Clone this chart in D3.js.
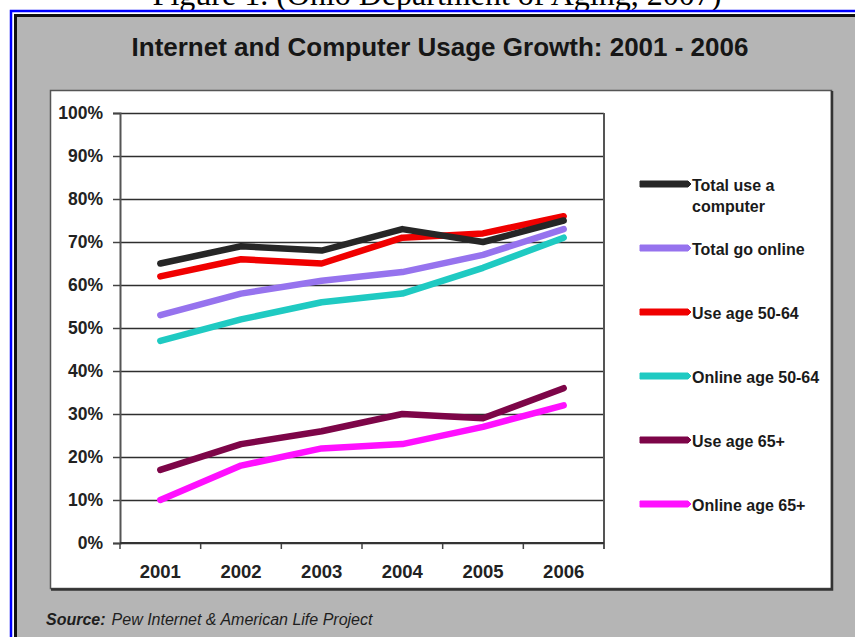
<!DOCTYPE html>
<html>
<head>
<meta charset="utf-8">
<script src="https://cdn.jsdelivr.net/npm/d3@7"></script>
<style>
  html, body { margin: 0; padding: 0; background: #fff; }
  svg { display: block; }
</style>
</head>
<body>
<svg id="chart"></svg>
<script>
// data
const years = ['2001', '2002', '2003', '2004', '2005', '2006'];
const yTicks = [0, 0.1, 0.2, 0.3, 0.4, 0.5, 0.6, 0.7, 0.8, 0.9, 1];

const seriesNames = ['Total use a computer', 'Total go online', 'Use age 50-64',
    'Online age 50-64', 'Use age 65+', 'Online age 65+'];
const seriesColors = ['#262626', '#9673ee', '#f00000', '#1fcac2', '#7d0548', '#ff10ff'];

const totalUse = [0.65, 0.69, 0.68, 0.73, 0.70, 0.75];
const totalOnline = [0.53, 0.58, 0.61, 0.63, 0.67, 0.73];
const use5064 = [0.62, 0.66, 0.65, 0.71, 0.72, 0.76];
const online5064 = [0.47, 0.52, 0.56, 0.58, 0.64, 0.71];
const use65 = [0.17, 0.23, 0.26, 0.30, 0.29, 0.36];
const online65 = [0.10, 0.18, 0.22, 0.23, 0.27, 0.32];

const seriesValues = [totalUse, totalOnline, use5064, online5064, use65, online65];
// draw order: lower series first so the black line sits on top like the original
const drawOrder = [5, 4, 3, 1, 2, 0];

const width = 855;
const height = 637;
const narrow = "'Liberation Sans Narrow', 'Arial Narrow', 'Liberation Sans', Arial, sans-serif";
const sans = "'Liberation Sans', Arial, sans-serif";

const svg = d3.select('#chart')
    .attr('width', width)
    .attr('height', height);

// page caption, cut off at the top of the scan
svg.append('text')
    .attr('x', 437)
    .attr('y', 5)
    .attr('text-anchor', 'middle')
    .style('font-family', "'Liberation Serif', 'Times New Roman', serif")
    .style('font-size', '32px')
    .style('fill', '#000')
    .text('Figure 1. (Ohio Department of Aging, 2007)');

// blue frame
svg.append('path')
    .attr('d', `M11,${height} V11 H${width}`)
    .attr('fill', 'none')
    .attr('stroke', '#0000ff')
    .attr('stroke-width', 2.5);

// gray card
svg.append('rect')
    .attr('x', 14).attr('y', 14)
    .attr('width', width).attr('height', height)
    .attr('fill', '#b5b5b5');
svg.append('path')
    .attr('d', `M15.5,${height} V15.5 H${width}`)
    .attr('fill', 'none')
    .attr('stroke', '#111')
    .attr('stroke-width', 3);

// title
svg.append('text')
    .attr('x', 440)
    .attr('y', 56)
    .attr('text-anchor', 'middle')
    .style('font-family', sans)
    .style('font-weight', 'bold')
    .style('font-size', '26px')
    .style('fill', '#161616')
    .text('Internet and Computer Usage Growth: 2001 - 2006');

// white chart box
svg.append('rect')
    .attr('x', 50.5).attr('y', 90.5)
    .attr('width', 781).attr('height', 498)
    .attr('fill', '#fff')
    .attr('stroke', '#555')
    .attr('stroke-width', 1.5);
svg.append('path')
    .attr('d', 'M832,91 V589.5 H51')
    .attr('fill', 'none')
    .attr('stroke', '#333')
    .attr('stroke-width', 2.5);

// scales
const x = d3.scaleBand()
    .domain(years)
    .range([120, 604]);

const y = d3.scaleLinear()
    .domain([0, 1])
    .range([543, 113]);

// gridlines
svg.append('g')
    .attr('transform', 'translate(120,0)')
    .call(d3.axisLeft(y).tickValues(yTicks).tickSize(-(604 - 120)).tickFormat(''))
    .call(g => g.select('.domain').remove())
    .call(g => g.selectAll('line').attr('stroke', '#2e2e2e').attr('stroke-width', 1.5));

// y axis
svg.append('g')
    .attr('transform', 'translate(120,0)')
    .call(d3.axisLeft(y).tickValues(yTicks).tickSize(7).tickPadding(10).tickFormat(d3.format('.0%')))
    .call(g => g.select('.domain').attr('stroke', '#555').attr('stroke-width', 2))
    .call(g => g.selectAll('line').attr('stroke', '#444').attr('stroke-width', 1.5))
    .call(g => g.selectAll('text')
        .style('font-family', sans)
        .style('font-weight', 'bold')
        .style('font-size', '17.5px')
        .style('fill', '#222'));

// right edge of plot
svg.append('line')
    .attr('x1', 604).attr('x2', 604)
    .attr('y1', y(1)).attr('y2', y(0) + 6)
    .attr('stroke', '#555')
    .attr('stroke-width', 2);

// x axis: ticks between categories
const xAxis = d3.axisBottom(x).tickSize(0).tickPadding(22);
const xg = svg.append('g')
    .attr('transform', `translate(0,${y(0)})`)
    .call(xAxis)
    .call(g => g.select('.domain').remove())
    .call(g => g.selectAll('text')
        .style('font-family', sans)
        .style('font-weight', 'bold')
        .style('font-size', '18.5px')
        .style('fill', '#222'));

xg.selectAll('.sep')
    .data(years)
    .join('line')
    .attr('class', 'sep')
    .attr('x1', d => x(d)).attr('x2', d => x(d))
    .attr('y1', 0).attr('y2', 6)
    .attr('stroke', '#444')
    .attr('stroke-width', 1.5);

svg.append('line')
    .attr('x1', 120).attr('x2', 604)
    .attr('y1', y(0)).attr('y2', y(0))
    .attr('stroke', '#333')
    .attr('stroke-width', 2);

// lines
const line = d3.line()
    .x((d, i) => x(years[i]) + x.bandwidth() / 2)
    .y(d => y(d));

svg.append('g')
    .selectAll('path')
    .data(drawOrder)
    .join('path')
    .attr('d', k => line(seriesValues[k]))
    .attr('fill', 'none')
    .attr('stroke', k => seriesColors[k])
    .attr('stroke-width', 6.5)
    .attr('stroke-linejoin', 'round')
    .attr('stroke-linecap', 'round');

// legend
const legendY = d3.scalePoint()
    .domain(seriesNames)
    .range([184, 504]);

const leg = svg.append('g')
    .selectAll('g')
    .data(seriesNames)
    .join('g')
    .attr('transform', d => `translate(640,${legendY(d)})`);

leg.append('path')
    .attr('d', 'M0,-3 H48 L51,0 L48,3 H0 Z')
    .attr('fill', (d, i) => seriesColors[i])
    .attr('stroke', (d, i) => seriesColors[i])
    .attr('stroke-width', 1);

leg.append('text')
    .attr('x', 52)
    .attr('y', 0)
    .style('font-family', narrow)
    .style('font-weight', 'bold')
    .style('font-size', '16px')
    .style('fill', '#1a1a1a')
    .each(function (d) {
        const t = d3.select(this);
        const parts = d === 'Total use a computer' ? ['Total use a', 'computer'] : [d];
        parts.forEach((p, j) => {
            t.append('tspan')
                .attr('x', 52)
                .attr('y', j * 21 + 7)
                .text(p);
        });
    });

// source note
const src = svg.append('text')
    .attr('x', 46)
    .attr('y', 625)
    .style('font-family', narrow)
    .style('font-style', 'italic')
    .style('font-size', '16px')
    .style('fill', '#1e1e1e');
src.append('tspan').style('font-weight', 'bold').text('Source:');
src.append('tspan').attr('dx', 6).text('Pew Internet & American Life Project');
</script>
</body>
</html>
